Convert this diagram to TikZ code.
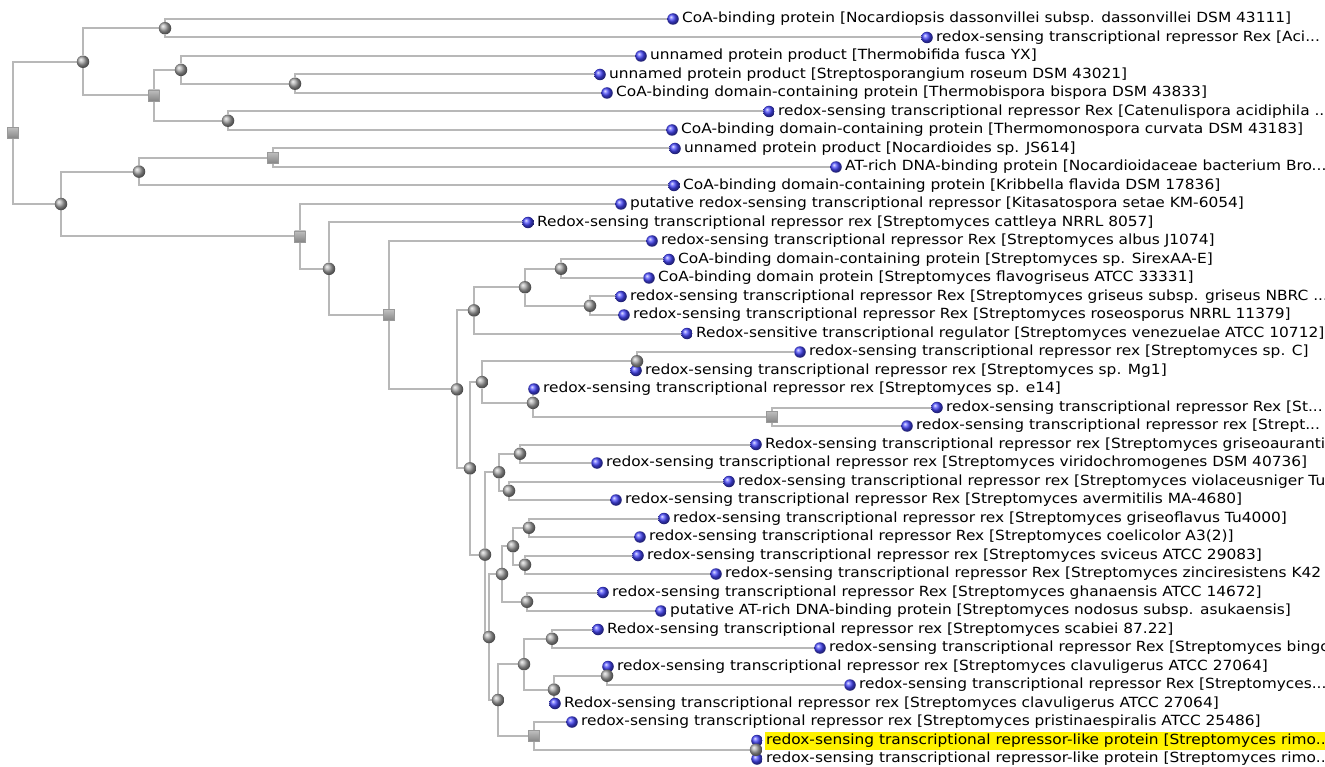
\documentclass[tikz,border=0pt]{standalone}
\usepackage{fontspec}
\setmainfont{DejaVu Sans}[FakeStretch=1.1]
\usetikzlibrary{backgrounds}
\definecolor{leafblue}{RGB}{70,70,250}
\newcommand\leafnode[4]{\node[leaf] (l#1) at (#2,#3) {};\node[lbl] (t#1) at ([xshift=2pt]l#1.east) {#4};}
\newcommand\branch[3]{\draw[edge] (#1) |- (#2); \draw[edge] (#1) |- (#3);}
\begin{document}
\begin{tikzpicture}[x=1pt,y=-1pt,
  edge/.style={draw=black!28, line width=2pt},
  cnode/.style={circle, inner sep=0pt, minimum size=12.5pt, ball color=gray!70},
  snode/.style={rectangle, inner sep=0pt, minimum size=11pt, top color=gray!50, bottom color=gray!95, draw=gray!80, line width=0.4pt},
  leaf/.style={circle, inner sep=0pt, minimum size=11.5pt, ball color=leafblue},
  lbl/.style={anchor=west, inner xsep=1pt, inner ysep=0pt, minimum height=18pt, font=\fontsize{14}{16}\selectfont, text=black},
]
\useasboundingbox (0,0) rectangle (1325,767);
\clip (0,0) rectangle (1325,767);
% leaves
\leafnode{1}{673}{19}{CoA-binding protein [Nocardiopsis dassonvillei subsp. dassonvillei DSM 43111]}
\leafnode{2}{927}{37.5}{redox-sensing transcriptional repressor Rex [Aci...}
\leafnode{3}{641}{56}{unnamed protein product [Thermobifida fusca YX]}
\leafnode{4}{600}{74.5}{unnamed protein product [Streptosporangium roseum DSM 43021]}
\leafnode{5}{607}{93}{CoA-binding domain-containing protein [Thermobispora bispora DSM 43833]}
\leafnode{6}{769}{111.5}{redox-sensing transcriptional repressor Rex [Catenulispora acidiphila ...}
\leafnode{7}{672}{130}{CoA-binding domain-containing protein [Thermomonospora curvata DSM 43183]}
\leafnode{8}{675}{148.5}{unnamed protein product [Nocardioides sp. JS614]}
\leafnode{9}{836}{167}{AT-rich DNA-binding protein [Nocardioidaceae bacterium Bro...}
\leafnode{10}{674}{185.5}{CoA-binding domain-containing protein [Kribbella flavida DSM 17836]}
\leafnode{11}{621}{204}{putative redox-sensing transcriptional repressor [Kitasatospora setae KM-6054]}
\leafnode{12}{528}{222.5}{Redox-sensing transcriptional repressor rex [Streptomyces cattleya NRRL 8057]}
\leafnode{13}{652}{241}{redox-sensing transcriptional repressor Rex [Streptomyces albus J1074]}
\leafnode{14}{669}{259.5}{CoA-binding domain-containing protein [Streptomyces sp. SirexAA-E]}
\leafnode{15}{649}{278}{CoA-binding domain protein [Streptomyces flavogriseus ATCC 33331]}
\leafnode{16}{621}{296.5}{redox-sensing transcriptional repressor Rex [Streptomyces griseus subsp. griseus NBRC ...}
\leafnode{17}{624}{315}{redox-sensing transcriptional repressor Rex [Streptomyces roseosporus NRRL 11379]}
\leafnode{18}{687}{333.5}{Redox-sensitive transcriptional regulator [Streptomyces venezuelae ATCC 10712]}
\leafnode{19}{800}{352}{redox-sensing transcriptional repressor rex [Streptomyces sp. C]}
\leafnode{20}{636}{370.5}{redox-sensing transcriptional repressor rex [Streptomyces sp. Mg1]}
\leafnode{21}{534}{389}{redox-sensing transcriptional repressor rex [Streptomyces sp. e14]}
\leafnode{22}{937}{407.5}{redox-sensing transcriptional repressor Rex [St...}
\leafnode{23}{907}{426}{redox-sensing transcriptional repressor rex [Strept...}
\leafnode{24}{756}{444.5}{Redox-sensing transcriptional repressor rex [Streptomyces griseoauranti...}
\leafnode{25}{597}{463}{redox-sensing transcriptional repressor rex [Streptomyces viridochromogenes DSM 40736]}
\leafnode{26}{729}{481.5}{redox-sensing transcriptional repressor rex [Streptomyces violaceusniger Tu ...}
\leafnode{27}{616}{500}{redox-sensing transcriptional repressor Rex [Streptomyces avermitilis MA-4680]}
\leafnode{28}{664}{518.5}{redox-sensing transcriptional repressor rex [Streptomyces griseoflavus Tu4000]}
\leafnode{29}{640}{537}{redox-sensing transcriptional repressor Rex [Streptomyces coelicolor A3(2)]}
\leafnode{30}{638}{555.5}{redox-sensing transcriptional repressor rex [Streptomyces sviceus ATCC 29083]}
\leafnode{31}{716}{574}{redox-sensing transcriptional repressor Rex [Streptomyces zinciresistens K42}
\leafnode{32}{603}{592.5}{redox-sensing transcriptional repressor Rex [Streptomyces ghanaensis ATCC 14672]}
\leafnode{33}{661}{611}{putative AT-rich DNA-binding protein [Streptomyces nodosus subsp. asukaensis]}
\leafnode{34}{598}{629.5}{Redox-sensing transcriptional repressor rex [Streptomyces scabiei 87.22]}
\leafnode{35}{820}{648}{redox-sensing transcriptional repressor Rex [Streptomyces bingch...}
\leafnode{36}{608}{666.5}{redox-sensing transcriptional repressor rex [Streptomyces clavuligerus ATCC 27064]}
\leafnode{37}{850}{685}{redox-sensing transcriptional repressor Rex [Streptomyces...}
\leafnode{38}{555}{703.5}{Redox-sensing transcriptional repressor rex [Streptomyces clavuligerus ATCC 27064]}
\leafnode{39}{572}{722}{redox-sensing transcriptional repressor rex [Streptomyces pristinaespiralis ATCC 25486]}
\node[leaf] (l40) at (757,740.5) {};
\node[lbl, fill=yellow] (t40) at ([xshift=2pt]l40.east) {redox-sensing transcriptional repressor-like protein [Streptomyces rimo...};
\leafnode{41}{757}{759}{redox-sensing transcriptional repressor-like protein [Streptomyces rimo...}
% internal nodes
\node[snode] (root) at (13,132.9) {};
\node[cnode] (nA) at (83,61.78) {};
\node[cnode] (n1) at (165,28.25) {};
\node[snode] (nC) at (154,95.31) {};
\node[cnode] (n2) at (181,69.88) {};
\node[cnode] (n3) at (295,83.75) {};
\node[cnode] (n4) at (228,120.75) {};
\node[cnode] (nB) at (61,204.02) {};
\node[cnode] (n5) at (139,171.63) {};
\node[snode] (n6) at (273,157.75) {};
\node[snode] (n7) at (300,236.42) {};
\node[cnode] (n8) at (329,268.84) {};
\node[snode] (n9) at (389,315.18) {};
\node[cnode] (n10) at (457,389.36) {};
\node[cnode] (n11) at (474,310.38) {};
\node[cnode] (n12) at (525,287.25) {};
\node[cnode] (n13) at (561,268.75) {};
\node[cnode] (n14) at (590,305.75) {};
\node[cnode] (n15) at (470,468.35) {};
\node[cnode] (n16) at (482,382.06) {};
\node[cnode] (n17) at (637,361.25) {};
\node[cnode] (n18) at (533,402.88) {};
\node[snode] (n19) at (772,416.75) {};
\node[cnode] (n20) at (485,554.63) {};
\node[cnode] (n21) at (499,472.25) {};
\node[cnode] (n22) at (520,453.75) {};
\node[cnode] (n23) at (509,490.75) {};
\node[cnode] (n24) at (489,637.02) {};
\node[cnode] (n25) at (502,574) {};
\node[cnode] (n26) at (513,546.25) {};
\node[cnode] (n27) at (529,527.75) {};
\node[cnode] (n28) at (525,564.75) {};
\node[cnode] (n29) at (527,601.75) {};
\node[cnode] (n30) at (498,700.03) {};
\node[cnode] (n31) at (524,664.19) {};
\node[cnode] (n32) at (552,638.75) {};
\node[cnode] (n33) at (554,689.63) {};
\node[cnode] (n34) at (607,675.75) {};
\node[snode] (n35) at (534,735.88) {};
\node[cnode] (n36) at (756,749.75) {};
\begin{pgfonlayer}{background}
\fill[white] (0,0) rectangle (1325,767);
\branch{root}{nA}{nB}
\branch{nA}{n1}{nC}
\branch{n1}{l1}{l2}
\branch{nC}{n2}{n4}
\branch{n2}{l3}{n3}
\branch{n3}{l4}{l5}
\branch{n4}{l6}{l7}
\branch{nB}{n5}{n7}
\branch{n5}{n6}{l10}
\branch{n6}{l8}{l9}
\branch{n7}{l11}{n8}
\branch{n8}{l12}{n9}
\branch{n9}{l13}{n10}
\branch{n10}{n11}{n15}
\branch{n11}{n12}{l18}
\branch{n12}{n13}{n14}
\branch{n13}{l14}{l15}
\branch{n14}{l16}{l17}
\branch{n15}{n16}{n20}
\branch{n16}{n17}{n18}
\branch{n17}{l19}{l20}
\branch{n18}{l21}{n19}
\branch{n19}{l22}{l23}
\branch{n20}{n21}{n24}
\branch{n21}{n22}{n23}
\branch{n22}{l24}{l25}
\branch{n23}{l26}{l27}
\branch{n24}{n25}{n30}
\branch{n25}{n26}{n29}
\branch{n26}{n27}{n28}
\branch{n27}{l28}{l29}
\branch{n28}{l30}{l31}
\branch{n29}{l32}{l33}
\branch{n30}{n31}{n35}
\branch{n31}{n32}{n33}
\branch{n32}{l34}{l35}
\branch{n33}{n34}{l38}
\branch{n34}{l36}{l37}
\branch{n35}{l39}{n36}
\branch{n36}{l40}{l41}
\end{pgfonlayer}
\end{tikzpicture}
\end{document}
